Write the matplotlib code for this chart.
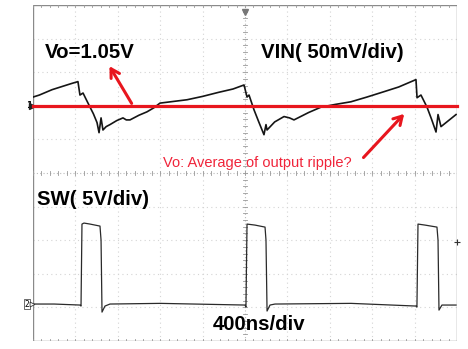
import numpy as np
import matplotlib.pyplot as plt

# Scope settings
time_per_div = 400.0      # ns/div
vin_per_div = 50.0        # mV/div
sw_per_div = 5.0          # V/div
ch1_ref_div = 7.0         # channel 1 ground marker (divisions from bottom)
ch2_ref_div = 1.1         # channel 2 ground marker

# Channel 1: output ripple (ns, mV relative to the average level)
vin_t = [0, 60, 120, 180, 240, 300, 360, 424, 443, 472, 500, 538, 570, 604, 623, 642,
         660, 690, 726, 790, 849, 880, 915, 1000, 1075, 1140, 1198, 1300, 1453, 1600,
         1750, 1887, 1991, 2019, 2038, 2085, 2130, 2179, 2198, 2208, 2280, 2368, 2420,
         2462, 2600, 2717, 2850, 3000, 3150, 3311, 3450, 3613, 3623, 3660, 3717, 3760,
         3802, 3821, 3849, 3920, 3991]
vin_mv = [13, 16, 20, 24, 27, 30, 33, 36, 16, 19, 10, -2, -12, -25, -40, -18,
          -36, -31, -28, -22, -18, -21, -21, -14, -9, -3, 4, 6, 9, 14,
          20, 25, 31, 13, 16, -6, -24, -43, -28, -36, -24, -16, -18,
          -21, -10, -2, 2, 6, 13, 21, 28, 39, 12, 16, -2, -20,
          -39, -13, -31, -22, -13]

# Channel 2: switch node (ns, V)
sw_t = [0, 200, 443, 453, 462, 481, 538, 585, 632, 642, 651, 679, 726, 1200, 2000,
        2009, 2019, 2094, 2189, 2198, 2208, 2236, 2283, 3000, 3613, 3622, 3632, 3698,
        3811, 3821, 3830, 3858, 3991]
sw_v = [0, 0, -0.15, -0.3, 11.9, 12.05, 11.9, 11.75, 11.6, 9.5, -1.2, -0.3, 0, 0.1, -0.15,
        -0.45, 11.9, 11.75, 11.45, 9.5, -1.04, -0.15, 0, 0.1, -0.3, -0.45, 11.9, 11.75,
        11.45, 9.5, -0.9, -0.15, -0.15]

vo_label = "Vo=1.05V"
ch1_label = "VIN( 50mV/div)"
ch2_label = "SW( 5V/div)"
time_label = "400ns/div"
note_label = "Vo: Average of output ripple?"

W, H = 468, 349
fig = plt.figure(figsize=(W / 100, H / 100), dpi=100)
fig.patch.set_facecolor('white')

left, right, top, bottom = 33, 457, 5, 341
ax = fig.add_axes([left / W, 1 - bottom / H, (right - left) / W, (bottom - top) / H])
ax.set_xlim(0, 10)
ax.set_ylim(0, 10)
ax.axis('off')

grid_color = '#d4d4d4'
frame_color = '#8a8a8a'

# Dotted graticule
for k in range(1, 10):
    if k == 5:
        continue
    ax.plot([k, k], [0, 10], color=grid_color, lw=0.8, ls=(0, (1, 3)), zorder=1)
    ax.plot([0, 10], [k, k], color=grid_color, lw=0.8, ls=(0, (1, 3)), zorder=1)

# Frame
ax.plot([0, 10, 10, 0, 0], [0, 0, 10, 10, 0], color=frame_color, lw=1.0, zorder=2)

# Center axes with minor ticks
ax.plot([5, 5], [0, 10], color='#bbbbbb', lw=0.8, ls=(0, (1, 2)), zorder=2)
ax.plot([0, 10], [5, 5], color='#bbbbbb', lw=0.8, ls=(0, (1, 2)), zorder=2)
minor = np.arange(0, 10.01, 0.2)
for m in minor:
    ax.plot([m, m], [4.94, 5.06], color='#999999', lw=0.6, zorder=2)
    ax.plot([4.95, 5.05], [m, m], color='#999999', lw=0.6, zorder=2)
    ax.plot([m, m], [10, 9.94], color='#999999', lw=0.6, zorder=2)
    ax.plot([m, m], [0, 0.06], color='#999999', lw=0.6, zorder=2)

# Traces
tx = np.array(vin_t) / time_per_div
ty = ch1_ref_div + np.array(vin_mv) / vin_per_div
ax.plot(tx, ty, color='#151515', lw=1.2, zorder=4)

sx = np.array(sw_t) / time_per_div
sy = ch2_ref_div + np.array(sw_v) / sw_per_div
ax.plot(sx, sy, color='#2a2a2a', lw=0.9, zorder=4)

# Channel markers
ax.text(-0.02, ch1_ref_div, "1", fontsize=6, ha='right', va='center', fontweight='bold',
        clip_on=False)
ax.plot([-0.02], [ch1_ref_div], marker='>', ms=4, color='#222222', clip_on=False, zorder=5)
ax.text(-0.08, ch2_ref_div, "2", fontsize=5.5, ha='right', va='center', clip_on=False,
        bbox=dict(boxstyle='square,pad=0.05', fc='white', ec='#333333', lw=0.5))
ax.plot([-0.02], [ch2_ref_div], marker='>', ms=3.5, mfc='white', mec='#333333', mew=0.6,
        clip_on=False, zorder=5)
ax.plot([5], [9.8], marker='v', ms=4, color='#777777', zorder=5)
ax.plot([10], [2.95], marker='+', ms=5, color='#333333', mew=0.8, clip_on=False, zorder=5)

# Average level line
red = '#e8161e'
ax.plot([0, 10], [ch1_ref_div, ch1_ref_div], color=red, lw=2.3, zorder=5, clip_on=False)

# Arrows
ax.annotate('', xy=(1.77, 8.25), xytext=(2.36, ch1_ref_div),
            arrowprops=dict(arrowstyle='->,head_length=0.6,head_width=0.35', color=red, lw=2.2),
            zorder=6)
ax.annotate('', xy=(8.80, 6.82), xytext=(7.75, 5.4),
            arrowprops=dict(arrowstyle='->,head_length=0.6,head_width=0.35', color=red, lw=2.2),
            zorder=6)

# Labels
font = 'Liberation Sans'
fig.text(45 / W, 1 - 58 / H, vo_label, fontsize=14.7, fontweight='bold', family=font,
         va='baseline', ha='left')
fig.text(261 / W, 1 - 58 / H, ch1_label, fontsize=14.7, fontweight='bold', family=font,
         va='baseline', ha='left')
fig.text(37 / W, 1 - 205 / H, ch2_label, fontsize=14.7, fontweight='bold', family=font,
         va='baseline', ha='left')
fig.text(213 / W, 1 - 330 / H, time_label, fontsize=14.7, fontweight='bold', family=font,
         va='baseline', ha='left')
fig.text(163 / W, 1 - 167 / H, note_label, fontsize=10.5, family=font, color='#f0243a',
         va='baseline', ha='left')

fig.savefig('out.png', dpi=100, facecolor='white')
